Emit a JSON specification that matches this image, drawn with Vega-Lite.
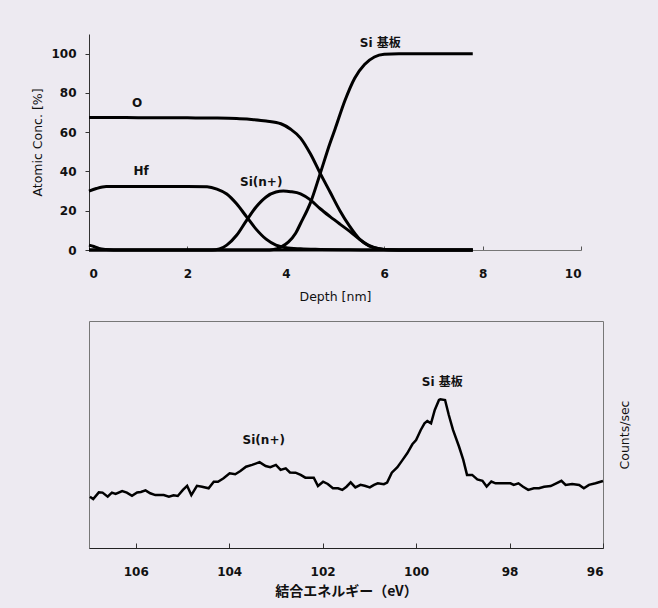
{
  "$schema": "https://vega.github.io/schema/vega-lite/v6.json",
  "background": "#EDEAF1",
  "padding": {"left": 31, "top": 34, "right": 28, "bottom": 15},
  "spacing": 17,
  "config": {
    "font": "DejaVu Sans, Noto Sans CJK JP",
    "axis": {"grid": false, "labelFont": "DejaVu Sans", "labelFontWeight": "bold", "labelFontSize": 12, "labelColor": "#111", "titleFont": "DejaVu Sans, Noto Sans CJK JP", "titleFontWeight": "normal", "titleFontSize": 12.5, "titleColor": "#111"}
  },
  "datasets": {
    "depth": [
      {"element": "O", "depth": 0, "conc": 67.5}, {"element": "O", "depth": 0.5, "conc": 67.5}, {"element": "O", "depth": 1, "conc": 67.4}, {"element": "O", "depth": 1.5, "conc": 67.4}, {"element": "O", "depth": 2, "conc": 67.3}, {"element": "O", "depth": 2.5, "conc": 67.2}, {"element": "O", "depth": 3, "conc": 67}, {"element": "O", "depth": 3.3, "conc": 66.5}, {"element": "O", "depth": 3.6, "conc": 65.7}, {"element": "O", "depth": 3.9, "conc": 64.3}, {"element": "O", "depth": 4.1, "conc": 61.5}, {"element": "O", "depth": 4.3, "conc": 57}, {"element": "O", "depth": 4.5, "conc": 49}, {"element": "O", "depth": 4.7, "conc": 39}, {"element": "O", "depth": 4.9, "conc": 29.5}, {"element": "O", "depth": 5.1, "conc": 20}, {"element": "O", "depth": 5.3, "conc": 12}, {"element": "O", "depth": 5.5, "conc": 5.5}, {"element": "O", "depth": 5.7, "conc": 2}, {"element": "O", "depth": 5.9, "conc": 0.6}, {"element": "O", "depth": 6.1, "conc": 0.1}, {"element": "O", "depth": 6.5, "conc": 0}, {"element": "O", "depth": 7.8, "conc": 0},
      {"element": "Hf", "depth": 0, "conc": 30}, {"element": "Hf", "depth": 0.15, "conc": 31.3}, {"element": "Hf", "depth": 0.35, "conc": 32.3}, {"element": "Hf", "depth": 1, "conc": 32.4}, {"element": "Hf", "depth": 2, "conc": 32.4}, {"element": "Hf", "depth": 2.4, "conc": 32.2}, {"element": "Hf", "depth": 2.6, "conc": 31}, {"element": "Hf", "depth": 2.8, "conc": 28.5}, {"element": "Hf", "depth": 3.0, "conc": 23.5}, {"element": "Hf", "depth": 3.2, "conc": 17}, {"element": "Hf", "depth": 3.4, "conc": 10.5}, {"element": "Hf", "depth": 3.6, "conc": 5.5}, {"element": "Hf", "depth": 3.8, "conc": 2.5}, {"element": "Hf", "depth": 4.0, "conc": 1.2}, {"element": "Hf", "depth": 4.3, "conc": 0.6}, {"element": "Hf", "depth": 4.7, "conc": 0.3}, {"element": "Hf", "depth": 5.2, "conc": 0.1}, {"element": "Hf", "depth": 5.6, "conc": 0}, {"element": "Hf", "depth": 7.8, "conc": 0},
      {"element": "Si(n+)", "depth": 0, "conc": 0}, {"element": "Si(n+)", "depth": 2.5, "conc": 0}, {"element": "Si(n+)", "depth": 2.65, "conc": 0.5}, {"element": "Si(n+)", "depth": 2.8, "conc": 2.5}, {"element": "Si(n+)", "depth": 3.0, "conc": 7.5}, {"element": "Si(n+)", "depth": 3.2, "conc": 15}, {"element": "Si(n+)", "depth": 3.4, "conc": 22}, {"element": "Si(n+)", "depth": 3.6, "conc": 27}, {"element": "Si(n+)", "depth": 3.8, "conc": 29.5}, {"element": "Si(n+)", "depth": 3.95, "conc": 30}, {"element": "Si(n+)", "depth": 4.1, "conc": 29.7}, {"element": "Si(n+)", "depth": 4.3, "conc": 28.6}, {"element": "Si(n+)", "depth": 4.5, "conc": 25.5}, {"element": "Si(n+)", "depth": 4.7, "conc": 21}, {"element": "Si(n+)", "depth": 4.9, "conc": 17}, {"element": "Si(n+)", "depth": 5.1, "conc": 13.2}, {"element": "Si(n+)", "depth": 5.3, "conc": 9.5}, {"element": "Si(n+)", "depth": 5.5, "conc": 5.5}, {"element": "Si(n+)", "depth": 5.7, "conc": 2.2}, {"element": "Si(n+)", "depth": 5.9, "conc": 0.6}, {"element": "Si(n+)", "depth": 6.1, "conc": 0.1}, {"element": "Si(n+)", "depth": 6.5, "conc": 0}, {"element": "Si(n+)", "depth": 7.8, "conc": 0},
      {"element": "Si sub", "depth": 0, "conc": 0}, {"element": "Si sub", "depth": 3.6, "conc": 0}, {"element": "Si sub", "depth": 3.75, "conc": 0.3}, {"element": "Si sub", "depth": 3.9, "conc": 1.5}, {"element": "Si sub", "depth": 4.05, "conc": 4}, {"element": "Si sub", "depth": 4.2, "conc": 8.5}, {"element": "Si sub", "depth": 4.3, "conc": 13.5}, {"element": "Si sub", "depth": 4.5, "conc": 24}, {"element": "Si sub", "depth": 4.7, "conc": 39}, {"element": "Si sub", "depth": 4.9, "conc": 54.5}, {"element": "Si sub", "depth": 5.0, "conc": 61.5}, {"element": "Si sub", "depth": 5.2, "conc": 76}, {"element": "Si sub", "depth": 5.4, "conc": 87.5}, {"element": "Si sub", "depth": 5.6, "conc": 94.5}, {"element": "Si sub", "depth": 5.8, "conc": 98.3}, {"element": "Si sub", "depth": 6.0, "conc": 99.7}, {"element": "Si sub", "depth": 6.3, "conc": 100}, {"element": "Si sub", "depth": 7.8, "conc": 100},
      {"element": "C", "depth": 0, "conc": 2.5}, {"element": "C", "depth": 0.1, "conc": 1.8}, {"element": "C", "depth": 0.2, "conc": 0.8}, {"element": "C", "depth": 0.35, "conc": 0.2}, {"element": "C", "depth": 0.5, "conc": 0}, {"element": "C", "depth": 7.8, "conc": 0}
    ],
    "topLabels": [
      {"depth": 0.98, "conc": 75, "label": "O"},
      {"depth": 1.06, "conc": 40, "label": "Hf"},
      {"depth": 3.5, "conc": 34.8, "label": "Si(n+)"},
      {"depth": 5.92, "conc": 105.5, "label": "Si 基板"}
    ],
    "spectrum": [
      {"ev": 106.98, "counts": 22.6}, {"ev": 106.91, "counts": 21.6}, {"ev": 106.79, "counts": 24.5}, {"ev": 106.71, "counts": 24.4}, {"ev": 106.60, "counts": 22.6}, {"ev": 106.51, "counts": 24.4}, {"ev": 106.43, "counts": 23.8}, {"ev": 106.29, "counts": 25.1}, {"ev": 106.19, "counts": 24.4}, {"ev": 106.08, "counts": 23.0}, {"ev": 105.97, "counts": 24.5}, {"ev": 105.89, "counts": 24.7}, {"ev": 105.79, "counts": 25.4}, {"ev": 105.69, "counts": 24.1}, {"ev": 105.58, "counts": 23.3}, {"ev": 105.40, "counts": 23.3}, {"ev": 105.29, "counts": 22.6}, {"ev": 105.19, "counts": 23.2}, {"ev": 105.10, "counts": 22.9}, {"ev": 104.99, "counts": 25.6}, {"ev": 104.90, "counts": 27.4}, {"ev": 104.81, "counts": 23.3}, {"ev": 104.69, "counts": 27.4}, {"ev": 104.58, "counts": 27.0}, {"ev": 104.44, "counts": 26.3}, {"ev": 104.33, "counts": 29.2}, {"ev": 104.24, "counts": 29.2}, {"ev": 104.12, "counts": 30.7}, {"ev": 103.99, "counts": 32.9}, {"ev": 103.87, "counts": 32.5}, {"ev": 103.76, "counts": 33.9}, {"ev": 103.64, "counts": 35.8}, {"ev": 103.51, "counts": 36.6}, {"ev": 103.35, "counts": 37.8}, {"ev": 103.22, "counts": 36.1}, {"ev": 103.12, "counts": 35.6}, {"ev": 103.00, "counts": 36.6}, {"ev": 102.90, "counts": 34.4}, {"ev": 102.79, "counts": 35.1}, {"ev": 102.70, "counts": 33.3}, {"ev": 102.58, "counts": 33.2}, {"ev": 102.47, "counts": 32.2}, {"ev": 102.37, "counts": 31.0}, {"ev": 102.19, "counts": 31.0}, {"ev": 102.10, "counts": 27.3}, {"ev": 101.99, "counts": 29.2}, {"ev": 101.89, "counts": 28.2}, {"ev": 101.78, "counts": 26.3}, {"ev": 101.67, "counts": 26.3}, {"ev": 101.58, "counts": 25.6}, {"ev": 101.49, "counts": 27.0}, {"ev": 101.40, "counts": 28.9}, {"ev": 101.30, "counts": 26.7}, {"ev": 101.19, "counts": 27.8}, {"ev": 101.10, "counts": 27.4}, {"ev": 100.99, "counts": 26.7}, {"ev": 100.90, "counts": 27.8}, {"ev": 100.82, "counts": 28.5}, {"ev": 100.69, "counts": 28.1}, {"ev": 100.62, "counts": 28.8}, {"ev": 100.52, "counts": 33.2}, {"ev": 100.40, "counts": 35.6}, {"ev": 100.30, "counts": 38.5}, {"ev": 100.19, "counts": 41.7}, {"ev": 100.08, "counts": 45.7}, {"ev": 100.00, "counts": 47.6}, {"ev": 99.90, "counts": 52.0}, {"ev": 99.82, "counts": 54.9}, {"ev": 99.76, "counts": 55.9}, {"ev": 99.68, "counts": 54.9}, {"ev": 99.60, "counts": 60.8}, {"ev": 99.51, "counts": 65.2}, {"ev": 99.48, "counts": 65.5}, {"ev": 99.38, "counts": 65.2}, {"ev": 99.30, "counts": 58.6}, {"ev": 99.21, "counts": 52.0}, {"ev": 99.08, "counts": 44.6}, {"ev": 98.99, "counts": 38.8}, {"ev": 98.91, "counts": 32.2}, {"ev": 98.80, "counts": 32.2}, {"ev": 98.69, "counts": 30.2}, {"ev": 98.58, "counts": 29.6}, {"ev": 98.49, "counts": 27.1}, {"ev": 98.39, "counts": 29.3}, {"ev": 98.30, "counts": 28.5}, {"ev": 97.98, "counts": 28.5}, {"ev": 97.91, "counts": 27.8}, {"ev": 97.81, "counts": 28.5}, {"ev": 97.71, "counts": 27.0}, {"ev": 97.60, "counts": 25.6}, {"ev": 97.48, "counts": 26.3}, {"ev": 97.37, "counts": 26.3}, {"ev": 97.26, "counts": 27.0}, {"ev": 97.12, "counts": 27.3}, {"ev": 97.00, "counts": 28.5}, {"ev": 96.89, "counts": 29.6}, {"ev": 96.80, "counts": 27.8}, {"ev": 96.66, "counts": 28.2}, {"ev": 96.51, "counts": 27.8}, {"ev": 96.41, "counts": 26.3}, {"ev": 96.30, "counts": 27.8}, {"ev": 96.16, "counts": 28.5}, {"ev": 96.00, "counts": 29.5}
    ],
    "bottomLabels": [
      {"ev": 103.26, "counts": 47.6, "label": "Si(n+)"},
      {"ev": 99.44, "counts": 73.3, "label": "Si 基板"}
    ]
  },
  "vconcat": [
    {
      "width": 492,
      "height": 216,
      "view": {"stroke": null},
      "layer": [
        {
          "data": {"name": "depth"},
          "mark": {"type": "line", "interpolate": "monotone", "strokeWidth": 3, "color": "#000"},
          "encoding": {
            "x": {"field": "depth", "type": "quantitative", "scale": {"domain": [0, 10]}, "axis": {"title": "Depth [nm]", "values": [0, 2, 4, 6, 8, 10], "tickSize": -4, "tickColor": "#555", "domainColor": "#777", "labelPadding": 22, "titlePadding": 11}},
            "y": {"field": "conc", "type": "quantitative", "scale": {"domain": [0, 110]}, "axis": {"title": "Atomic Conc. [%]", "values": [0, 20, 40, 60, 80, 100], "tickSize": 4, "tickColor": "#333", "domainColor": "#333", "labelPadding": 9, "titlePadding": 6}},
            "detail": {"field": "element"}
          }
        },
        {
          "data": {"name": "topLabels"},
          "mark": {"type": "text", "font": "DejaVu Sans, Noto Sans CJK JP", "fontWeight": "bold", "fontSize": 12, "color": "#111"},
          "encoding": {
            "x": {"field": "depth", "type": "quantitative"},
            "y": {"field": "conc", "type": "quantitative"},
            "text": {"field": "label"}
          }
        }
      ]
    },
    {
      "width": 514,
      "height": 227,
      "view": {"stroke": "#777", "strokeWidth": 1},
      "layer": [
        {
          "data": {"name": "spectrum"},
          "mark": {"type": "line", "strokeWidth": 2.5, "color": "#000"},
          "encoding": {
            "x": {"field": "ev", "type": "quantitative", "scale": {"domain": [96, 107], "reverse": true, "nice": false}, "axis": {"title": "結合エネルギー（eV）", "titleFont": "Noto Sans CJK JP", "titleFontSize": 14, "titleFontWeight": "bold", "values": [96, 98, 100, 102, 104, 106], "tickSize": -5, "tickColor": "#333", "domainColor": "#222", "labelPadding": 23, "titlePadding": 7}},
            "y": {"field": "counts", "type": "quantitative", "scale": {"domain": [0, 100]}, "axis": {"orient": "right", "title": "Counts/sec", "labels": false, "ticks": false, "domain": false, "titleAngle": -90, "titlePadding": 28}}
          }
        },
        {
          "data": {"name": "bottomLabels"},
          "mark": {"type": "text", "font": "DejaVu Sans, Noto Sans CJK JP", "fontWeight": "bold", "fontSize": 12, "color": "#111"},
          "encoding": {
            "x": {"field": "ev", "type": "quantitative"},
            "y": {"field": "counts", "type": "quantitative"},
            "text": {"field": "label"}
          }
        }
      ]
    }
  ]
}
